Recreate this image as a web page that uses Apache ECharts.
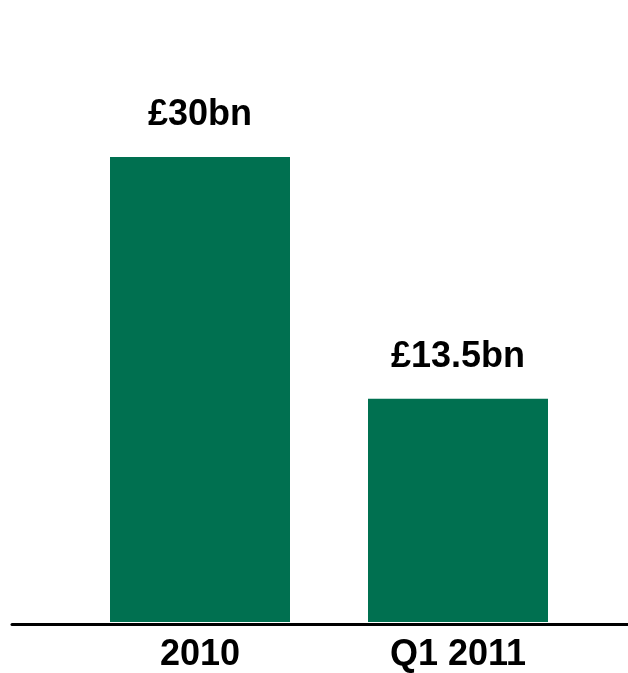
<!DOCTYPE html>
<html><head><meta charset="utf-8">
<script src="https://cdn.jsdelivr.net/npm/echarts@6/dist/echarts.min.js"></script>
<style>html,body{margin:0;padding:0;background:#fff}#c{width:628px;height:673px}</style>
</head><body><div id="c"></div>
<script>
const categories = ["2010", "Q1 2011"];
const values = [30, 14.4];
const valueLabels = ["£30bn", "£13.5bn"];

const chart = echarts.init(document.getElementById('c'));
const font = '"Liberation Sans", Arial, sans-serif';
chart.setOption({
  animation: false,
  grid: [
    {left: 71, width: 516, top: 157, bottom: 49},
    {left: 12, right: 0, top: 157, bottom: 49}
  ],
  xAxis: [
    {type: 'category', data: categories, gridIndex: 0,
     axisLine: {show: false}, axisTick: {show: false},
     axisLabel: {margin: 15, color: '#000', fontSize: 36, fontWeight: 'bold', fontFamily: font}},
    {type: 'value', gridIndex: 1, min: 0, max: 1,
     axisLine: {show: true, lineStyle: {color: '#000', width: 3}},
     axisTick: {show: false}, axisLabel: {show: false}, splitLine: {show: false}}
  ],
  yAxis: [
    {type: 'value', gridIndex: 0, min: 0, max: 30, show: false},
    {type: 'value', gridIndex: 1, show: false}
  ],
  series: [{
    type: 'bar', xAxisIndex: 0, yAxisIndex: 0, z: 1,
    data: values, barWidth: 180,
    itemStyle: {color: '#007050'},
    label: {show: true, position: 'top', distance: 24,
      formatter: p => valueLabels[p.dataIndex],
      color: '#000', fontSize: 36, fontWeight: 'bold', fontFamily: font}
  }]
});
</script></body></html>
